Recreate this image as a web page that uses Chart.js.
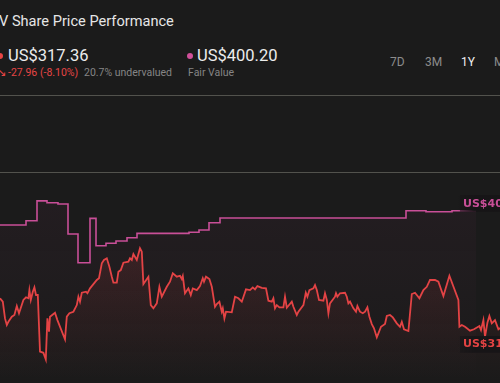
<!DOCTYPE html>
<html>
<head>
<meta charset="utf-8">
<script src="https://cdn.jsdelivr.net/npm/chart.js@4.4.0/dist/chart.umd.min.js"></script>
<style>
  html, body { margin:0; padding:0; background:#1b1b1b; width:500px; height:383px; overflow:hidden; }
  body { position:relative; font-family:Roboto, "DejaVu Sans", sans-serif; }
  .t { position:absolute; white-space:nowrap; line-height:1; }
  .dot { position:absolute; width:6px; height:6px; border-radius:50%; }
  .hr { position:absolute; left:0; width:500px; height:1px; background:#52524d; }
  #wrap { position:absolute; left:0; top:174px; width:500px; height:209px; }
</style>
</head>
<body>
<div class="t" style="left:-1px; top:13.5px; font-size:14.6px; color:#e6e6e6;">V Share Price Performance</div>

<div class="dot" style="left:-3px; top:53px; background:#e64545;"></div>
<div class="t" style="left:8px; top:48px; font-size:16.5px; color:#ececec;">US$317.36</div>
<div class="t" style="left:-3px; top:67px; font-size:11px; color:#e64545; font-family:'DejaVu Sans';">↘</div>
<div class="t" style="left:8px; top:68px; font-size:10.5px; color:#e64545;">-27.96 (-8.10%)</div>
<div class="t" style="left:84px; top:68px; font-size:10.5px; color:#858585;">20.7% undervalued</div>

<div class="dot" style="left:187px; top:53px; background:#d0509a;"></div>
<div class="t" style="left:197px; top:48px; font-size:16.5px; color:#ececec;">US$400.20</div>
<div class="t" style="left:188px; top:68px; font-size:10.5px; color:#858585;">Fair Value</div>

<div class="t" style="left:390px; top:56px; font-size:12px; color:#8c8c8c;">7D</div>
<div class="t" style="left:425px; top:56px; font-size:12px; color:#8c8c8c;">3M</div>
<div class="t" style="left:461px; top:56px; font-size:12px; color:#f0f0f0;">1Y</div>
<div class="t" style="left:494px; top:56px; font-size:12px; color:#8c8c8c;">Max</div>

<div class="hr" style="top:95px;"></div>
<div class="hr" style="top:172px;"></div>

<div id="wrap"><canvas id="c" width="500" height="209"></canvas></div>

<script>
// Share price (day index over the 1Y window, price in US$)
const priceDays = [
  0,1.4,2.5,3.4,4.2,5.9,7.2,8.4,9.5,11.7,
  13,14.2,14.7,15.4,16.4,17.2,18,18.9,20,21.7,
  22.9,23.7,24.5,25,27.5,28.7,32.5,33.4,34.7,36.7,
  38.4,39.2,40,40.9,43,43.7,45,48.4,49.5,50.9,
  52,53.4,54.7,55.9,56.7,58.4,59.2,60.4,61.7,64.2,
  65,65.9,66.7,68.4,70,70.9,71.7,74.2,75.4,76.7,
  78.4,79.7,80.9,83.4,85,86.4,88.4,90,90.9,91.4,
  92.5,94.2,95.4,96.4,98.4,100,101.4,102,103,104.7,
  105.9,107.5,108.4,109.7,110.9,111.4,112.2,113,115.9,117.5,
  119.2,120.9,123,125,126.4,127.5,128.7,130.9,133,134.2,
  135.9,136.7,137.5,138.4,139.7,141.7,142.5,143.4,145.9,146.7,
  148.4,149.2,151.7,152.9,153.7,154.7,156.7,157.5,158.4,159.5,
  161.7,162.5,163.4,164.2,165,167.5,168,168.7,170,172.5,
  173.4,174.2,175,176.7,178,178.7,180,181.4,182.5,183.7,
  184.7,185.9,187,188.4,189.2,190.5,192.5,193.4,195,196.4,
  198.4,200,200.9,202,204.2,205.9,207.5,209.7,211.7,213.4,
  215,217.5,219.2,221.7,224.7,229.2,229.7,230.9,232.5,235,
  237,239.7,240.5,241.7,242.5,243.7,244.7,245.9,247.5,249.2,
  250
];
const priceValues = [
  338.4,336.0,324.2,319.5,321.8,325.4,326.6,332.9,327.8,337.2,
  339.1,338.4,344.2,337.2,343.0,346.1,340.7,340.7,300.7,299.9,
  295.3,324.2,314.8,325.4,328.2,323.0,309.4,325.4,327.8,328.9,
  333.6,339.5,336.0,342.3,343.0,341.9,345.4,351.3,352.5,363.1,
  365.4,366.6,360.7,353.6,349.4,349.4,357.1,358.3,363.5,364.2,
  366.6,365.4,369.6,365.4,373.7,371.3,348.5,353.6,333.6,331.3,
  334.8,346.5,339.5,346.5,350.1,356.0,353.6,354.3,352.0,354.1,
  341.9,345.4,340.7,345.4,344.2,347.0,352.5,350.1,353.6,352.0,
  346.5,332.4,334.3,336.0,328.9,331.3,324.2,328.9,328.5,339.5,
  338.4,336.0,344.7,344.2,346.1,344.7,347.0,345.8,345.4,336.7,
  336.0,338.4,331.3,333.6,332.0,332.0,339.5,331.7,336.0,332.4,
  326.6,328.9,333.6,342.3,339.5,344.2,345.4,347.7,344.2,337.2,
  336.7,341.9,337.2,327.8,334.8,339.5,341.9,339.5,341.9,342.3,
  339.5,334.8,336.0,331.3,328.9,332.9,328.9,327.8,328.9,332.0,
  325.4,320.2,317.2,310.8,313.6,318.3,320.2,325.9,326.6,324.9,
  320.7,318.3,321.8,316.5,315.3,341.4,342.3,338.4,344.2,346.5,
  351.3,351.3,350.1,340.0,354.3,337.2,318.3,319.5,318.3,315.5,
  316.5,318.8,316.0,323.0,311.2,321.1,325.9,320.7,323.0,316.5,
  317.36
];
// Fair value estimate (each value holds until the next change)
const fairDays   = [0,13,18.5,23.5,29,34,39,45,48,53,58,63.5,68.5,94.5,99.5,104.5,110,203,213,226,238];
const fairValues = [390.1,393.1,407.1,405.8,404.9,383.8,363.5,394.8,375.5,377.2,378.8,381.1,384.2,385.0,386.6,391.7,395.0,400.2,399.5,400.2,400.2];

const lastPrice = priceValues[priceValues.length - 1];
const lastFair = fairValues[fairValues.length - 1];
const priceLabel = 'US$317.36';
const fairLabel = 'US$400.20';

const priceColor = '#e44343';
const fairColor = '#c94f98';

function toXY(xs, ys) { return xs.map((x, i) => ({ x: x, y: ys[i] })); }

function grad(ctx, area, rgb, a0, a1) {
  const g = ctx.createLinearGradient(0, area.top, 0, area.bottom);
  g.addColorStop(0, 'rgba(' + rgb + ',' + a0 + ')');
  g.addColorStop(1, 'rgba(' + rgb + ',' + a1 + ')');
  return g;
}

const labelPlugin = {
  id: 'endLabels',
  afterDatasetsDraw(chart) {
    const ctx = chart.ctx;
    const ys = chart.scales.y;
    ctx.save();
    ctx.font = 'bold 11px "DejaVu Sans", sans-serif';
    ctx.textBaseline = 'middle';
    const items = [
      { text: fairLabel, color: fairColor, y: ys.getPixelForValue(lastFair) - 15.5 },
      { text: priceLabel, color: priceColor, y: ys.getPixelForValue(lastPrice) + 8 }
    ];
    items.forEach(it => {
      const w = ctx.measureText(it.text).width + 8;
      const g = ctx.createLinearGradient(458, 0, 474, 0);
      g.addColorStop(0, 'rgba(24,22,24,0.0)');
      g.addColorStop(1, 'rgba(24,22,24,0.95)');
      ctx.fillStyle = g;
      ctx.fillRect(458, it.y, w + 2, 16.5);
      ctx.fillStyle = 'rgba(24,22,24,0.55)';
      ctx.fillRect(460, it.y, w, 16.5);
      ctx.fillStyle = it.color;
      ctx.fillText(it.text, 463, it.y + 8.5);
    });
    ctx.restore();
  }
};

new Chart(document.getElementById('c'), {
  type: 'line',
  data: {
    datasets: [
      {
        label: 'Fair Value',
        data: toXY(fairDays, fairValues),
        stepped: 'before',
        borderColor: fairColor,
        borderWidth: 1.6,
        pointRadius: 0,
        fill: 'origin',
        backgroundColor: (c) => c.chart.chartArea ? grad(c.chart.ctx, c.chart.chartArea, '201,79,152', 0.06, 0.0) : 'transparent'
      },
      {
        label: 'Share Price',
        data: toXY(priceDays, priceValues),
        borderColor: priceColor,
        borderWidth: 1.8,
        pointRadius: 0,
        tension: 0,
        fill: 'origin',
        backgroundColor: (c) => c.chart.chartArea ? grad(c.chart.ctx, c.chart.chartArea, '228,67,67', 0.2, 0.0) : 'transparent'
      }
    ]
  },
  options: {
    responsive: false,
    animation: false,
    layout: { padding: 0 },
    plugins: { legend: { display: false }, tooltip: { enabled: false } },
    scales: {
      x: { type: 'linear', min: 0, max: 250, display: false },
      y: { min: 278.6, max: 426.1, display: false }
    }
  },
  plugins: [labelPlugin]
});
</script>
</body>
</html>
